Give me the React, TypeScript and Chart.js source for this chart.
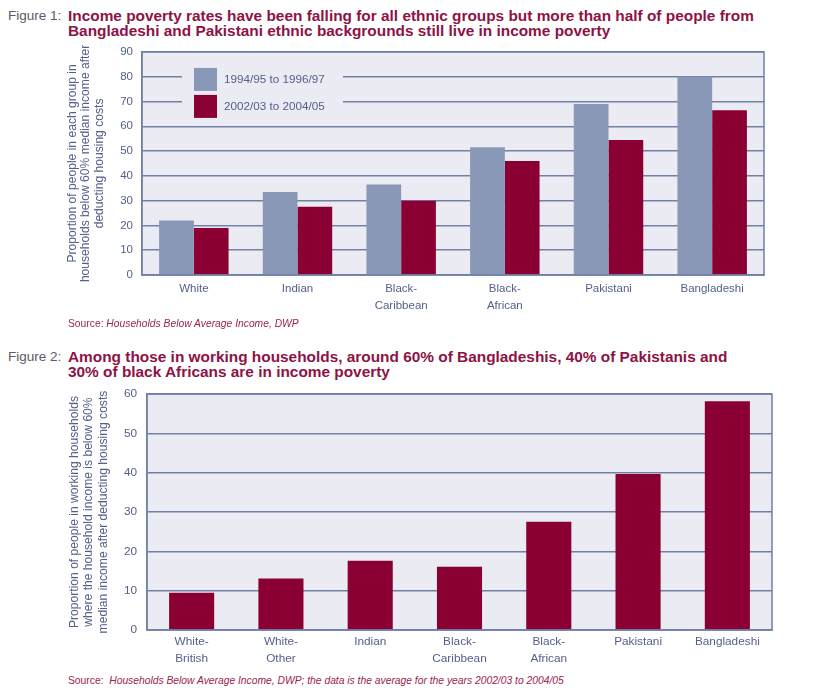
import React, { useEffect, useRef } from "react";
import { Chart, registerables } from "chart.js";
Chart.register(...registerables);

// ---------- DATA ----------
const fig1Categories = [["White"], ["Indian"], ["Black-", "Caribbean"], ["Black-", "African"], ["Pakistani"], ["Bangladeshi"]];
const fig1Series1Label = "1994/95 to 1996/97";
const fig1Series1 = [22, 33.5, 36.5, 51.5, 69, 80];
const fig1Series2Label = "2002/03 to 2004/05";
const fig1Series2 = [19, 27.5, 30, 46, 54.5, 66.5];
const fig1YMax = 90;
const fig1YStep = 10;
const fig1YTitle = ["Proportion of people in each group in", "households below 60% median income after", "deducting housing costs"];

const fig2Categories = [["White-", "British"], ["White-", "Other"], ["Indian"], ["Black-", "Caribbean"], ["Black-", "African"], ["Pakistani"], ["Bangladeshi"]];
const fig2Values = [9.5, 13.1, 17.6, 16.1, 27.5, 39.7, 58.2];
const fig2YMax = 60;
const fig2YStep = 10;
const fig2YTitle = ["Proportion of people in working households", "where the household income is below 60%", "median income after deducting housing costs"];

// ---------- STYLE ----------
const FONT = "'Liberation Sans', Arial, Helvetica, sans-serif";
const PLOT_BG = "#EBEBF3";
const GRID = "#7280A6";
const GREY_BAR = "#8A98B7";
const RED_BAR = "#8A0032";
const TICK = "#54608A";
const CRIMSON = "#8E1245";

const framePlugin = {
  id: "frame",
  beforeDraw(chart: any) {
    const { ctx, chartArea: a } = chart;
    ctx.save();
    ctx.fillStyle = PLOT_BG;
    ctx.fillRect(a.left, a.top, a.right - a.left, a.bottom - a.top);
    ctx.restore();
  },
  afterDraw(chart: any) {
    const { ctx, chartArea: a } = chart;
    ctx.save();
    ctx.strokeStyle = GRID;
    ctx.lineWidth = 1.5;
    ctx.strokeRect(a.left, a.top, a.right - a.left, a.bottom - a.top);
    ctx.restore();
  },
};

const insideLegendPlugin = {
  id: "insideLegend",
  afterDraw(chart: any, _args: any, opts: any) {
    if (!opts || !opts.display) return;
    const { ctx, chartArea: a } = chart;
    const x0 = a.left + 40;
    const y0 = a.top + 12;
    ctx.save();
    ctx.fillStyle = PLOT_BG;
    ctx.fillRect(x0, y0, 161, 50);
    ctx.font = `11.7px ${FONT}`;
    ctx.textBaseline = "middle";
    ctx.textAlign = "left";
    chart.data.datasets.forEach((ds: any, i: number) => {
      const sy = a.top + 16 + i * 27;
      ctx.fillStyle = ds.backgroundColor;
      ctx.fillRect(x0 + 12, sy, 23, 23);
      ctx.fillStyle = TICK;
      ctx.fillText(ds.label, x0 + 42, sy + 11.5);
    });
    ctx.restore();
  },
};

function useBarChart(ref: React.RefObject<HTMLCanvasElement>, build: () => any) {
  useEffect(() => {
    if (!ref.current) return;
    const chart = new Chart(ref.current, build());
    return () => chart.destroy();
  }, []);
}

function Figure1() {
  const ref = useRef<HTMLCanvasElement>(null);
  useBarChart(ref, () => ({
    type: "bar",
    data: {
      labels: fig1Categories,
      datasets: [
        { label: fig1Series1Label, data: fig1Series1, backgroundColor: GREY_BAR, categoryPercentage: 0.67, barPercentage: 1.0 },
        { label: fig1Series2Label, data: fig1Series2, backgroundColor: RED_BAR, categoryPercentage: 0.67, barPercentage: 1.0 },
      ],
    },
    plugins: [framePlugin, insideLegendPlugin],
    options: {
      responsive: false,
      animation: false,
      layout: { padding: { left: 0, top: 7, right: 51, bottom: 0 } },
      plugins: {
        legend: { display: false },
        tooltip: { enabled: false },
        insideLegend: { display: true },
      },
      scales: {
        x: {
          grid: { display: false, drawTicks: false },
          border: { display: true, color: GRID, width: 1.5 },
          ticks: { color: TICK, font: { family: FONT, size: 11.5, lineHeight: 1.48 }, padding: 5, maxRotation: 0, autoSkip: false },
          afterFit(s: any) { s.height = 45; },
        },
        y: {
          min: 0,
          max: fig1YMax,
          grid: { color: GRID, lineWidth: 1.5, drawTicks: false },
          border: { display: true, color: GRID, width: 1.5 },
          ticks: { stepSize: fig1YStep, color: TICK, font: { family: FONT, size: 11.5 }, padding: 9 },
          title: { display: true, text: fig1YTitle, color: TICK, font: { family: FONT, size: 12.1, lineHeight: 1.1 }, padding: { top: 66, bottom: 0 } },
          afterFit(s: any) { s.width = 142; },
        },
      },
    },
  }));
  return <canvas ref={ref} width={815} height={284} style={{ position: "absolute", left: 0, top: 36, display: "block" }} />;
}

function Figure2() {
  const ref = useRef<HTMLCanvasElement>(null);
  useBarChart(ref, () => ({
    type: "bar",
    data: {
      labels: fig2Categories,
      datasets: [
        { label: "2002/03 to 2004/05", data: fig2Values, backgroundColor: RED_BAR, categoryPercentage: 1.0, barPercentage: 0.505 },
      ],
    },
    plugins: [framePlugin],
    options: {
      responsive: false,
      animation: false,
      layout: { padding: { left: 0, top: 7, right: 43, bottom: 0 } },
      plugins: {
        legend: { display: false },
        tooltip: { enabled: false },
      },
      scales: {
        x: {
          grid: { display: false, drawTicks: false },
          border: { display: true, color: GRID, width: 1.5 },
          ticks: { color: TICK, font: { family: FONT, size: 11.8, lineHeight: 1.44 }, padding: 3, maxRotation: 0, autoSkip: false },
          afterFit(s: any) { s.height = 42; },
        },
        y: {
          min: 0,
          max: fig2YMax,
          grid: { color: GRID, lineWidth: 1.5, drawTicks: false },
          border: { display: true, color: GRID, width: 1.5 },
          ticks: { stepSize: fig2YStep, color: TICK, font: { family: FONT, size: 11.8 }, padding: 10 },
          title: { display: true, text: fig2YTitle, color: TICK, font: { family: FONT, size: 12.1, lineHeight: 1.2 }, padding: { top: 67, bottom: 0 } },
          afterFit(s: any) { s.width = 147; },
        },
      },
    },
  }));
  return <canvas ref={ref} width={815} height={295} style={{ position: "absolute", left: 0, top: 377, display: "block" }} />;
}

function Title({ top, num, lines }: { top: number; num: string; lines: string[] }) {
  return (
    <div style={{ position: "absolute", left: 8, top, fontFamily: FONT, lineHeight: "15px", whiteSpace: "nowrap" }}>
      <span style={{ position: "absolute", left: 0, top: 0, fontSize: 13.5, color: "#5A5A66" }}>{num}</span>
      <div style={{ position: "absolute", left: 60, top: 0, fontSize: 15.4, fontWeight: "bold", color: CRIMSON }}>
        {lines.map((l, i) => (
          <div key={i}>{l}</div>
        ))}
      </div>
    </div>
  );
}

function Source({ top, italic, gap }: { top: number; italic: string; gap: string }) {
  return (
    <div style={{ position: "absolute", left: 68, top, fontFamily: FONT, fontSize: 10.3, color: "#9A2352", whiteSpace: "pre" }}>
      {"Source:" + gap}
      <i>{italic}</i>
    </div>
  );
}

export default function App() {
  useEffect(() => {
    document.body.style.margin = "0";
    document.body.style.background = "#ffffff";
  }, []);
  return (
    <div style={{ position: "relative", width: 815, height: 692, background: "#fff", overflow: "hidden" }}>
      <Title
        top={8}
        num="Figure 1:"
        lines={[
          "Income poverty rates have been falling for all ethnic groups but more than half of people from",
          "Bangladeshi and Pakistani ethnic backgrounds still live in income poverty",
        ]}
      />
      <Figure1 />
      <Source top={318} gap=" " italic="Households Below Average Income, DWP" />
      <Title
        top={349}
        num="Figure 2:"
        lines={[
          "Among those in working households, around 60% of Bangladeshis, 40% of Pakistanis and",
          "30% of black Africans are in income poverty",
        ]}
      />
      <Figure2 />
      <Source top={675} gap="  " italic="Households Below Average Income, DWP; the data is the average for the years 2002/03 to 2004/05" />
    </div>
  );
}
